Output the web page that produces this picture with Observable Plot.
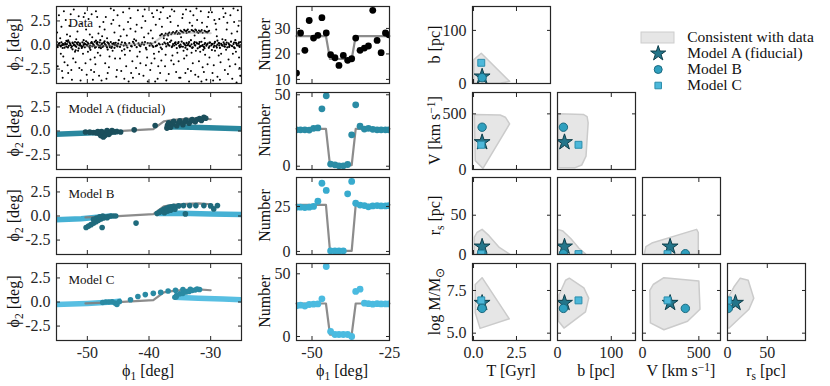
<!DOCTYPE html>
<html><head><meta charset="utf-8">
<script src="https://cdn.jsdelivr.net/npm/d3@7"></script>
<script src="https://cdn.jsdelivr.net/npm/@observablehq/plot@0.6"></script>
<style>
body{margin:0;background:#fff;}
#root{position:relative;width:830px;height:386px;overflow:hidden;background:#fff;}
#root svg{position:absolute;background:none;overflow:visible;}
</style></head><body><div id="root"></div>
<script>
// ---------------- DATA ----------------
// Data panel: background field stars [phi1, phi2]
const bgPts = [
[-54.6,3.1],[-54.2,1.9],[-53.9,-1.2],[-53.5,2.6],[-53.1,-2.9],[-52.8,0.9],[-52.5,-3.6],[-52.2,3.7],[-51.9,-1.8],[-51.6,1.4],[-51.3,-2.4],[-51.0,2.2],[-50.7,-0.9],[-50.4,3.3],[-50.1,-3.1],[-54.8,-2.2],[-54.0,-3.4],[-53.3,1.1],[-52.0,-0.7],[-51.4,3.0],[-50.2,1.6],[-54.4,0.7],[-53.7,-1.8],[-52.6,-2.6],
[-49.8,2.7],[-49.5,-1.5],[-49.2,0.8],[-48.9,-2.8],[-48.6,3.5],[-48.3,-0.8],[-48.0,1.9],[-47.7,-3.7],[-47.4,2.4],[-47.1,-1.9],[-46.8,0.7],[-46.5,-2.3],[-46.2,3.8],[-45.9,-0.6],[-45.6,1.3],[-45.3,-3.3],[-49.1,-3.6],[-48.4,2.9],[-47.9,-1.1],[-47.2,1.6],[-46.7,-2.9],[-46.1,2.2],[-45.5,-1.4],[-45.1,3.1],[-49.6,1.1],[-48.7,-2.0],
[-44.8,2.0],[-44.5,-2.7],[-44.2,3.4],[-43.9,-1.0],[-43.6,1.0],[-43.3,-3.8],[-43.0,2.8],[-42.7,-1.7],[-42.4,0.6],[-42.1,-2.4],[-41.8,3.6],[-41.5,-0.7],[-41.2,1.8],[-40.9,-3.2],[-40.6,2.5],[-40.3,-1.3],[-44.0,-3.5],[-43.4,2.4],[-42.9,-2.9],[-42.2,1.4],[-41.6,-3.0],[-41.0,3.0],[-40.5,-2.1],[-44.6,0.9],[-43.1,-0.6],[-40.1,1.2],
[-39.8,-2.6],[-39.5,3.3],[-39.2,-0.9],[-38.9,2.1],[-38.6,-3.5],[-38.3,2.7],[-38.0,-1.6],[-37.7,3.9],[-37.4,-2.2],[-37.1,0.6],[-36.8,-3.0],[-36.5,2.4],[-36.2,-1.1],[-35.9,3.5],[-35.6,-2.8],[-35.3,2.0],[-39.6,-1.9],[-39.0,-3.8],[-38.4,-0.7],[-37.9,1.9],[-37.2,-3.7],[-36.6,3.0],[-36.0,-2.0],[-35.4,-0.8],[-39.3,2.9],[-38.1,3.4],
[-34.9,-3.4],[-34.6,2.8],[-34.3,-1.4],[-34.0,3.7],[-33.7,-2.5],[-33.4,2.3],[-33.1,-0.8],[-32.8,3.1],[-32.5,-3.1],[-32.2,2.6],[-31.9,-1.7],[-31.6,3.5],[-31.3,-2.3],[-31.0,0.7],[-30.7,-3.6],[-30.4,2.9],[-34.8,0.8],[-34.1,-2.9],[-33.5,-3.8],[-32.9,-1.9],[-32.3,3.8],[-31.7,-0.7],[-31.1,-2.8],[-30.6,1.9],[-30.2,-1.3],[-33.0,2.0],[-34.4,-0.6],
[-29.8,3.4],[-29.5,-2.1],[-29.2,2.2],[-28.9,-3.3],[-28.6,2.7],[-28.3,-0.9],[-28.0,3.8],[-27.7,-2.6],[-27.4,1.6],[-27.1,-1.5],[-26.8,3.1],[-26.5,-3.5],[-26.2,2.4],[-25.9,-0.7],[-25.6,3.6],[-25.3,-2.4],[-29.6,-3.7],[-29.0,0.9],[-28.4,-1.8],[-27.9,2.9],[-27.2,-3.0],[-26.6,1.2],[-26.0,-2.0],[-25.5,2.0],[-29.3,-0.6],[-27.5,-0.5],[-25.8,-3.9],
[-54.3,-0.9],[-53.8,3.5],[-53.2,-2.1],[-52.9,2.0],[-52.3,-1.4],[-51.8,0.6],[-51.1,-3.7],[-50.6,2.9],[-50.3,-1.9],[-49.9,-0.7],[-49.3,3.2],[-48.8,-1.3],[-48.1,-3.2],[-47.6,0.9],[-47.0,2.9],[-46.4,-1.2],[-45.8,2.6],[-45.2,-2.6],[-44.7,-1.4],[-44.1,1.6],[-43.7,-2.2],[-43.2,3.8],[-42.6,-3.4],[-42.0,2.1],[-41.4,-1.9],[-40.8,0.8],[-40.2,-3.8],[-39.7,1.5],[-39.1,-1.4],[-38.7,3.6],[-38.2,-2.9],[-37.6,0.7],[-37.0,2.8],[-36.4,-1.6],[-35.8,1.2],[-35.1,-3.4],[-34.5,3.2],[-33.9,-1.1],[-33.2,-2.7],[-32.6,1.0],[-32.0,-3.3],[-31.4,2.3],[-30.9,-1.0],[-30.3,3.4],[-29.7,-2.9],[-29.1,1.6],[-28.5,-3.6],[-28.1,0.6],[-27.6,3.3],[-26.9,-2.2],[-26.4,-0.9],[-25.7,1.4],[-25.2,-3.2],[-54.9,1.3],[-54.1,-2.7],[-52.7,3.2],[-51.5,-0.6],[-50.9,-2.6],[-49.4,-2.6],[-48.2,1.2],[-46.9,-3.5],[-45.7,3.6],[-44.4,-0.6],[-43.0,1.7],[-41.9,-1.2],[-40.7,3.7],[-39.4,0.7],[-38.5,-2.2],[-37.3,-1.0],[-36.3,3.7],[-35.2,-1.7],[-34.2,1.5],[-33.3,3.5],[-32.4,-0.6],[-31.5,-3.8],[-30.5,-2.0],[-29.4,2.6],[-28.7,-1.1],[-27.3,2.3],[-26.3,3.8],[-25.4,-1.3]
];
// Data panel: stream members [phi1, phi2]
const streamPts = [
[-55.0,0.08],[-54.8,-0.22],[-54.6,0.15],[-54.4,-0.05],[-54.2,0.28],[-54.0,-0.31],[-53.8,0.02],[-53.6,0.19],[-53.4,-0.16],[-53.2,0.35],
[-53.0,-0.09],[-52.8,0.12],[-52.6,-0.27],[-52.4,0.24],[-52.2,-0.02],[-52.0,0.31],[-51.8,-0.19],[-51.6,0.06],[-51.4,-0.36],[-51.2,0.17],
[-51.0,-0.11],[-50.8,0.27],[-50.6,0.01],[-50.4,-0.24],[-50.2,0.39],[-50.0,-0.07],[-49.8,0.13],[-49.6,-0.3],[-49.4,0.21],[-49.2,-0.14],
[-49.0,0.04],[-48.8,0.33],[-48.6,-0.21],[-48.4,0.1],[-48.2,-0.04],[-48.0,0.26],[-47.8,-0.33],[-47.6,0.16],[-47.4,-0.12],[-47.2,0.37],
[-47.0,0.0],[-46.8,-0.25],[-46.6,0.2],[-46.4,-0.08],[-46.2,0.3],[-46.0,-0.17],[-45.8,0.09],[-45.6,-0.29],[-45.4,0.23],[-45.2,-0.03],
[-45.0,0.14],[-44.7,-0.2],[-44.4,0.28],[-44.1,-0.06],[-43.8,0.11],[-43.5,-0.26],[-43.2,0.19],[-42.9,-0.1],[-42.6,0.33],[-42.3,-0.01],
[-42.0,-0.23],[-41.7,0.16],[-41.4,-0.13],[-41.1,0.25],[-40.8,0.03],[-40.5,-0.3],[-40.2,0.2],[-39.9,-0.07],[-39.6,0.12],[-39.3,-0.2],
[-39.0,0.29],[-38.7,-0.04],[-38.4,0.15],[-38.1,-0.27],[-37.8,0.08],[-37.5,0.24],[-37.2,-0.15],[-36.9,0.02],[-36.6,0.31],[-36.3,-0.22],
[-36.1,0.1],[-35.9,-0.05],[-35.7,0.27],[-35.5,-0.32],[-35.3,0.18],[-35.1,-0.1],[-34.9,0.05],[-34.7,0.36],[-34.5,-0.18],[-34.3,0.13],
[-34.1,-0.28],[-33.9,0.22],[-33.7,-0.02],[-33.5,0.3],[-33.3,-0.14],[-33.1,0.07],[-32.9,-0.24],[-32.7,0.17],[-32.5,-0.06],[-32.3,0.26],
[-32.1,-0.35],[-31.9,0.11],[-31.7,-0.12],[-31.5,0.34],[-31.3,0.0],[-31.1,-0.2],[-30.9,0.2],[-30.7,-0.08],[-30.5,0.14],[-30.3,-0.29],
[-30.1,0.25],[-29.9,-0.03],[-29.7,0.09],[-29.5,-0.22],[-29.3,0.32],[-29.1,-0.11],[-28.9,0.04],[-28.7,0.21],[-28.5,-0.3],[-28.3,0.12],
[-28.1,-0.07],[-27.9,0.28],[-27.7,-0.17],[-27.5,0.06],[-27.3,-0.25],[-27.1,0.18],[-26.9,-0.01],[-26.7,0.35],[-26.5,-0.13],[-26.3,0.1],
[-26.1,-0.33],[-25.9,0.23],[-25.7,-0.05],[-25.5,0.15],[-25.3,-0.2],[-25.1,0.3],
[-54.9,-0.12],[-54.5,0.21],[-54.1,-0.02],[-53.7,-0.28],[-53.3,0.1],[-52.9,0.27],[-52.5,-0.13],[-52.1,0.05],[-51.7,0.22],[-51.3,-0.04],
[-50.9,-0.3],[-50.5,0.16],[-50.1,0.02],[-49.7,-0.18],[-49.3,0.3],[-48.9,-0.09],[-48.5,0.19],[-48.1,-0.26],[-47.7,0.06],[-47.3,0.24],
[-46.9,-0.14],[-46.5,0.1],[-46.1,-0.31],[-45.7,0.2],[-45.3,-0.06],[-43.9,0.22],[-42.8,-0.15],[-41.2,0.07],[-39.8,0.18],[-38.9,-0.12],
[-37.3,0.13],[-36.7,-0.07],[-35.8,0.19],[-35.0,-0.24],[-34.2,0.03],[-33.4,-0.1],[-32.6,0.29],[-31.8,-0.23],[-31.0,0.08],[-30.2,-0.14],
[-29.4,0.17],[-28.6,-0.04],[-27.8,0.1],[-27.0,-0.2],[-26.2,0.26],[-25.4,-0.09],[-53.1,0.48],[-49.5,-0.5],[-44.9,0.5],[-40.4,-0.47],
[-36.4,0.46],[-31.2,-0.5],[-27.6,0.52],[-51.9,-0.55],[-47.9,0.5],[-33.2,0.5],[-29.8,-0.52],[-42.1,0.45],
[-54.95,0.3],[-54.7,0.0],[-54.3,-0.15],[-53.95,0.12],[-53.5,0.05],[-53.15,-0.25],[-52.7,-0.02],[-52.35,0.18],[-51.95,-0.1],[-51.5,0.28],
[-51.15,0.02],[-50.75,-0.16],[-50.35,0.09],[-49.95,0.25],[-49.55,-0.06],[-49.15,0.16],[-48.75,-0.28],[-48.35,0.3],[-47.95,-0.1],[-47.55,-0.2],
[-47.15,0.1],[-46.75,0.28],[-46.35,-0.22],[-45.95,0.13],[-45.55,0.02],[-45.1,-0.15],[-44.55,0.05],[-43.65,-0.05],[-42.45,0.18],[-41.55,-0.02],
[-40.65,0.3],[-39.45,-0.08],[-38.25,0.05],[-36.95,0.2],[-36.2,-0.12],[-35.6,0.05],[-35.2,0.3],[-34.8,-0.15],[-34.4,0.2],[-34.0,-0.06],
[-33.6,0.12],[-33.0,-0.3],[-32.6,0.0],[-32.2,0.15],[-31.8,0.3],[-31.4,-0.1],[-31.0,-0.33],[-30.6,0.05],[-30.2,0.24],[-29.8,0.12],
[-29.4,-0.08],[-29.0,-0.27],[-28.6,0.18],[-28.2,0.02],[-27.8,-0.13],[-27.4,0.26],[-27.0,0.04],[-26.6,-0.08],[-26.2,-0.25],[-25.8,0.1],
[-25.4,0.28],[-25.0,0.0],[-53.4,0.42],[-48.6,0.45],[-44.0,-0.45],[-37.9,-0.42],[-33.8,-0.45],[-28.9,0.45],[-26.0,0.5],[-50.6,0.5],[-52.4,-0.45],[-46.7,-0.48]
];
// Data panel: spur above the stream [phi1, phi2]
const spurPts = [
[-38.2,1.0],[-37.9,1.15],[-37.6,0.95],[-37.3,1.2],[-37.0,1.08],[-36.7,1.3],[-36.4,1.12],[-36.1,1.35],[-35.8,1.22],[-35.5,1.45],
[-35.2,1.28],[-34.9,1.5],[-34.6,1.36],[-34.3,1.58],[-34.0,1.42],[-33.7,1.62],[-33.4,1.38],[-33.1,1.55],[-32.8,1.45],[-32.5,1.6],
[-32.2,1.35],[-31.9,1.5],[-31.6,1.42],[-31.3,1.28],[-31.0,1.47],[-30.7,1.35],[-30.4,1.4],[-36.9,0.98],[-35.0,1.18],[-33.9,1.25],[-32.0,1.25],
[-38.0,1.08],[-37.45,1.02],[-36.85,1.2],[-36.25,1.25],[-35.65,1.32],[-35.35,1.15],[-34.75,1.42],[-34.45,1.3],[-33.85,1.5],[-33.55,1.35],
[-32.95,1.5],[-32.65,1.38],[-32.35,1.52],[-31.75,1.38],[-31.45,1.55],[-30.85,1.4],[-30.55,1.3],[-30.25,1.48]
];
// Best-fit track (gray line) [phi1, phi2]
const track = [[-50.3,-0.15],[-45,-0.02],[-39.3,0.2],[-37.6,1.0],[-36,1.15],[-34,1.27],[-32,1.32],[-30,1.22]];

// Model streams: unperturbed band [phi1, phi2, segment]
const bandA = [[-55.5,-0.36,0],[-51,-0.24,0],[-47,-0.12,0],[-45,-0.06,0],[-37.2,0.45,1],[-33,0.38,1],[-29,0.3,1],[-24.5,0.22,1]];
const bandB = [[-55.5,-0.4,0],[-51,-0.28,0],[-48,-0.1,0],[-46,0.0,0],[-38.5,0.25,1],[-35,0.28,1],[-30,0.2,1],[-24.5,0.15,1]];
const bandC = [[-55.5,-0.28,0],[-50,-0.15,0],[-46,0.0,0],[-44.5,0.1,0],[-35.9,0.5,1],[-32,0.38,1],[-28,0.3,1],[-24.5,0.22,1]];
// Model streams: perturbed particles [phi1, phi2]
const dotsA = [
[-50.3,-0.1],[-49.6,-0.12],[-49,-0.15],[-48.5,-0.2],[-48,-0.3],[-47.8,-0.5],[-47.4,-0.62],[-47.1,-0.45],[-47,-0.2],[-46.8,0.05],[-46.5,-0.35],[-46.2,-0.15],[-46,0.05],[-45.6,-0.1],[-45.2,-0.05],[-44.6,-0.1],[-47.7,-0.05],[-48.3,-0.05],
[-42.4,0.12],[-39,0.57],
[-37.1,0.3],[-37,0.6],[-36.8,0.85],[-36.5,0.4],[-36.2,0.7],[-36,1.0],[-35.5,0.55],[-35.2,0.85],[-35,1.05],[-34.5,0.65],[-34.2,0.95],[-34,1.15],[-33.5,0.8],[-33.2,1.05],[-33,1.2],[-32.5,0.95],[-32.2,1.2],[-31.8,1.3],[-31.5,1.1],[-31.1,1.42],[-30.8,1.32]
];
const dotsB = [
[-50.2,-1.2],[-49.8,-1.05],[-49.4,-0.9],[-49,-0.75],[-48.6,-0.6],[-48.2,-0.45],[-47.8,-0.3],[-47.4,-0.2],[-47,-0.1],[-46.6,-0.05],[-46.2,0],[-45.8,0],[-45.4,0],[-48.5,-0.2],[-48,-0.08],[-47.5,0],[-49,-0.35],[-46.8,-0.18],[-47.6,-1.2],[-42.1,-0.74],
[-38.7,0.25],[-38.3,0.4],[-38,0.55],[-37.6,0.7],[-37.2,0.8],[-36.8,0.9],[-36.4,0.95],[-36,1.0],[-37.5,0.35],[-37,0.5],[-36.5,0.6],[-35.8,0.7],
[-35.2,1.05],[-34.4,1.08],[-33.4,1.08],[-32.4,1.08],[-31.1,1.08],[-30,1.05],[-28.9,1.08],[-29.5,0.74],[-34.1,0.22]
];
const dotsC = [
[-47.5,-0.05],[-47,0],[-46.5,0],[-46,0.02],[-45.5,-0.1],[-45.2,-0.25],[-44.8,0.05],
[-43,0.23],[-41.8,0.57],[-40.6,0.77],[-39.3,0.9],[-38.1,1.0],[-36.9,1.15],[-35.7,1.22],[-34.5,1.3],[-33.3,1.33],[-32.2,1.35],[-31.8,1.3],
[-35.8,0.5],[-35.5,0.7],[-35,0.85],[-34.5,0.9],[-34,1.05],[-33.5,1.1],[-33,1.2],[-32.5,1.25],[-35.6,0.55]
];

// Star counts along the stream
const binPhi1   = [-55,-53.7,-52.3,-50.9,-49.5,-48.1,-46.8,-45.4,-44.0,-42.6,-41.3,-39.9,-38.5,-37.2,-35.9,-34.5,-33.1,-31.8,-30.4,-29.0,-27.7,-26.3,-25.2];
const countData = [12.5,28.2,21.4,33.1,26.2,27.3,34.2,28.2,19.7,18.5,15.5,19.4,17.5,18.1,26.2,21.4,22.3,23.1,37.1,25.3,20.5,28.2,27.5];
const countA    = [25.5,25.5,25.5,25.3,26.5,26.8,40.2,49.3,1.5,1.0,0.3,0.3,1.2,22,43,28,26,26.5,25.8,25.5,25.5,25.5,25.5];
const countB    = [24.6,24.6,24.4,24.6,25,27.9,37.9,33.9,0.3,0.3,0.3,0.3,32,38.9,26.8,25.8,25.5,24.8,25.3,25.5,25.3,25.3,25.5];
const countC    = [24.5,25,24.3,25.5,25.8,26,30,55.8,4,1.6,1.6,1.6,1.6,0,35.9,37.7,26.6,26.2,25.8,26.2,26,26,26];
// Model count profile (gray step)
const stepPhi1  = [-55,-45.5,-44.2,-37.2,-35.9,-25];
const stepData  = [27,27,18,18,27,27];
const stepA     = [26.2,26.2,0.8,0.8,26.2,26.2];
const stepB     = [25.9,25.9,0.3,0.3,25.9,25.9];
const stepC     = [26.3,26.3,1.5,1.5,26.3,26.3];

// Perturber parameters of the three models
const modelNames = ["Model A (fiducial)","Model B","Model C"];
const modelT    = [0.5, 0.5, 0.45];   // Gyr
const modelB    = [13, 11, 39];       // pc
const modelV    = [245, 380, 222];    // km/s
const modelRs   = [10, 1.0, 0.5];     // pc
const modelLogM = [6.77, 6.45, 6.92];

// Regions consistent with the data [x, y]
const polyT_b   = [[0.02,0.5],[0.02,45],[0.45,57],[2.1,4],[1.6,0.8]];
const polyT_V   = [[0.05,495],[1.55,490],[1.85,470],[2.1,410],[0.55,10],[0.1,80]];
const polyb_V   = [[2,500],[48,495],[55,475],[57,420],[53,120],[45,40],[32,15],[2,15]];
const polyT_rs  = [[0.05,0],[0.05,22],[0.2,28],[0.5,32],[0.9,24],[1.5,9],[2.1,0.5],[2.1,0]];
const polyb_rs  = [[0.5,0],[0.5,32],[10,30],[25,20],[40,8],[52,1],[52,0]];
const polyV_rs  = [[15,0],[30,10],[90,15],[480,32],[495,28],[495,0]];
const polyT_M   = [[0.5,8.25],[0.1,7.85],[0.1,6.2],[0.38,5.28],[2.08,5.84]];
const polyb_M   = [[2,5.7],[12,5.3],[52,6.25],[58,7.05],[49,7.65],[22,8.22],[15,8.1],[3,7.25]];
const polyV_M   = [[65,7.5],[95,7.85],[190,8.25],[500,8.05],[510,6.4],[400,5.7],[190,5.2],[70,5.6]];
const polyrs_M  = [[0,5.3],[0,7.0],[8,7.7],[16,8.22],[26,8.1],[33,7.05],[27,6.4],[2,5.3]];

// Tick values
const phi2Ticks = [-2.5, 0, 2.5];
const phi1TicksLeft = [-50, -40, -30];
const phi1TicksMid = [-50, -25];

// ---------------- STYLE ----------------
const FONT = "Liberation Serif, Times New Roman, serif";
const INK = "#262626";
const GRAY = "#808080";
const modelFill   = ["#23758a", "#2fa0bf", "#4db8da"];
const modelStroke = ["#0f3e4a", "#1b6a80", "#2b8dab"];
const modelSym    = ["star", "circle", "square"];
const modelR      = [5.0, 4.2, 3.9];
const bandColor   = ["#2a889f", "#46b1d4", "#58bfe2"];
const dotColor    = ["#1b4f5c", "#1f6b7d", "#2a8aa3"];
const countColor  = ["#2a8ca5", "#38abce", "#4bbbe0"];

const root = document.getElementById("root");
const fmt1 = d => (d < 0 ? "-" : "") + Math.abs(d).toFixed(1);
const fmt0 = d => (d < 0 ? "-" : "") + Math.abs(d);
const blank = () => "";

// force serif fonts & sizes on every text of a rendered Plot
function restyle(svg, labelSize) {
  const s = d3.select(svg);
  s.attr("font-family", FONT).style("font-family", FONT);
  s.selectAll("g").each(function() { if (this.getAttribute("font-family")) this.setAttribute("font-family", FONT); });
  s.selectAll('g[aria-label$="tick label"] text').style("font-family", FONT).style("font-size", "16px");
  s.selectAll('g[aria-label="text"] text').style("font-family", FONT).style("font-size", labelSize + "px");
}

function panel({left, top, w, h, x, y, xt, yt, xf = fmt0, yf = fmt0, showX = false, showY = true, marks}) {
  const M = 45;
  const svg = Plot.plot({
    width: w + 2 * M, height: h + 2 * M,
    marginLeft: M, marginRight: M, marginTop: M, marginBottom: M,
    x, y,
    marks: [
      ...marks,
      Plot.axisX(xt, {anchor: "bottom", tickSize: -4, tickPadding: 10, tickFormat: showX ? xf : blank, label: null}),
      Plot.axisX(xt, {anchor: "top", tickSize: -4, tickFormat: blank, label: null}),
      Plot.axisY(yt, {anchor: "left", tickSize: -4, tickPadding: 10, tickFormat: showY ? yf : blank, label: null}),
      Plot.axisY(yt, {anchor: "right", tickSize: -4, tickFormat: blank, label: null}),
      Plot.frame({stroke: INK, strokeWidth: 1.2})
    ]
  });
  restyle(svg, 13);
  svg.style.left = (left - M) + "px";
  svg.style.top = (top - M) + "px";
  svg.style.color = INK;
  root.appendChild(svg);
}

const rowTop = [6, 92, 177, 263];
const H = 77;
const px = d => d[0], py = d => d[1];
const phi1Left = {domain: [-55, -25]};
const phi1Mid = {domain: [-55, -25]};
const phi2Scale = {domain: [-4, 4]};
const label = s => Plot.text([s], {frameAnchor: "top-left", dx: 12, dy: 16, lineAnchor: "middle", textAnchor: "start", fill: "#111"});
const trackLine = (op) => Plot.line(track, {x: px, y: py, stroke: GRAY, strokeWidth: 2.2, strokeOpacity: op, clip: true});

// ---- Left column: Data
panel({left: 56, top: rowTop[0], w: 185, h: H, x: phi1Left, y: phi2Scale, xt: phi1TicksLeft, yt: phi2Ticks, yf: fmt1,
  marks: [
    Plot.dot(bgPts, {x: px, y: py, r: 1.0, fill: "#000", clip: true}),
    Plot.dot(streamPts, {x: px, y: py, r: 1.1, fill: "#000", clip: true}),
    Plot.dot(spurPts, {x: px, y: py, r: 1.0, fill: "#000", clip: true}),
    trackLine(0.4),
    label("Data")
  ]});
// ---- Left column: models
const bands = [bandA, bandB, bandC], dotsM = [dotsA, dotsB, dotsC];
for (let k = 0; k < 3; k++) {
  panel({left: 56, top: rowTop[k + 1], w: 185, h: H, x: phi1Left, y: phi2Scale, xt: phi1TicksLeft, yt: phi2Ticks, yf: fmt1, showX: k === 2,
    marks: [
      Plot.line(bands[k], {x: px, y: py, z: d => d[2], stroke: bandColor[k], strokeWidth: 5.5, strokeLinecap: "butt", clip: true}),
      trackLine(0.9),
      Plot.dot(dotsM[k], {x: px, y: py, r: 2.8, fill: dotColor[k], clip: true}),
      label(modelNames[k])
    ]});
}
// ---- Middle column: counts
const counts = [countData, countA, countB, countC];
const steps = [stepData, stepA, stepB, stepC];
const countDomains = [[8.4, 38.6], [-2.3, 51.6], [-1.7, 41.1], [-3.2, 58.2]];
const countTicks = [[10, 20, 30], [0, 50], [0, 25], [0, 50]];
const cColors = ["#000", ...countColor];
for (let k = 0; k < 4; k++) {
  panel({left: 296, top: rowTop[k], w: 93, h: H, x: phi1Mid, y: {domain: countDomains[k]}, xt: phi1TicksMid, yt: countTicks[k], showX: k === 3,
    marks: [
      Plot.line(stepPhi1, {x: d => d, y: (d, i) => steps[k][i], stroke: GRAY, strokeWidth: 2.2, strokeOpacity: 0.9}),
      Plot.dot(binPhi1, {x: d => d, y: (d, i) => counts[k][i], r: 3.4, fill: cColors[k], clip: true})
    ]});
}
// ---- Corner plot
const params = {
  T: {vals: modelT, domain: [-0.06, 4.48], ticks: [0, 2.5], fmt: fmt1},
  b: {vals: modelB, domain: [0, 145], ticks: [0, 100], fmt: fmt0},
  V: {vals: modelV, domain: [0, 692], ticks: [0, 500], fmt: fmt0},
  rs: {vals: modelRs, domain: [0, 98], ticks: [0, 50], fmt: fmt0},
  logM: {vals: modelLogM, domain: [4.57, 9.08], ticks: [5, 7.5], fmt: fmt1}
};
const colKeys = ["T", "b", "V", "rs"];
const rowKeys = ["b", "V", "rs", "logM"];
const polys = {
  "T,b": polyT_b, "T,V": polyT_V, "b,V": polyb_V,
  "T,rs": polyT_rs, "b,rs": polyb_rs, "V,rs": polyV_rs,
  "T,logM": polyT_M, "b,logM": polyb_M, "V,logM": polyV_M, "rs,logM": polyrs_M
};
const colLeft = [472, 557, 642, 727];
for (let i = 0; i < 4; i++) {
  for (let j = 0; j <= i; j++) {
    const xk = colKeys[j], yk = rowKeys[i];
    const XP = params[xk], YP = params[yk];
    const markers = [0, 1, 2].map(m => Plot.dot([m], {x: d => XP.vals[d], y: d => YP.vals[d], symbol: modelSym[m], r: modelR[m], fill: modelFill[m], stroke: modelStroke[m], strokeWidth: 1, clip: true}));
    panel({left: colLeft[j], top: rowTop[i], w: 78, h: H,
      x: {domain: XP.domain}, y: {domain: YP.domain}, xt: XP.ticks, yt: YP.ticks, xf: XP.fmt, yf: YP.fmt,
      showX: i === 3, showY: j === 0,
      marks: [
        Plot.line(polys[xk + "," + yk], {x: px, y: py, curve: "linear-closed", fill: "#e6e6e6", stroke: "#cbcbcb", strokeWidth: 1.5, clip: true}),
        ...markers
      ]});
  }
}
// ---- Legend
const legendLabels = ["Consistent with data", ...modelNames];
{
  const leg = Plot.plot({
    width: 210, height: 112, margin: 0,
    x: {domain: [0, 210], range: [0, 210], axis: null},
    y: {type: "point", domain: legendLabels, range: [27, 94.5], axis: null},
    marks: [
      Plot.ruleY([legendLabels[0]], {x1: 20.5, x2: 54.5, stroke: "#cdcdcd", strokeWidth: 12}),
      Plot.ruleY([legendLabels[0]], {x1: 21.5, x2: 53.5, stroke: "#e6e6e6", strokeWidth: 10}),
      ...[0, 1, 2].map(m => Plot.dot([modelNames[m]], {x: () => 37.7, y: d => d, symbol: modelSym[m], r: modelR[m] * 0.95, fill: modelFill[m], stroke: modelStroke[m], strokeWidth: 1})),
      Plot.text(legendLabels, {x: () => 66.7, y: d => d, text: d => d, textAnchor: "start", fill: "#111"})
    ]
  });
  restyle(leg, 15.5);
  leg.style.left = "620px"; leg.style.top = "0px";
  root.appendChild(leg);
}
// ---- Axis titles (real text with sub/superscripts)
const ov = d3.select(root).append("svg").attr("width", 830).attr("height", 386)
  .style("left", "0px").style("top", "0px")
  .attr("font-family", FONT).attr("font-size", 16).attr("fill", "#111");
function title(x, y, parts, rot) {
  const t = ov.append("text").attr("text-anchor", "middle")
    .attr("transform", `translate(${x},${y})` + (rot ? " rotate(-90)" : ""));
  let shift = 0;
  for (const [s, kind] of parts) {
    const target = kind === "sub" ? 4 : kind === "sup" ? -5 : 0;
    const ts = t.append("tspan").text(s).attr("dy", target - shift);
    if (kind) ts.attr("font-size", 11.5);
    shift = target;
  }
}
const phi2Label = [["ϕ"], ["2", "sub"], [" [deg]"]];
const phi1Label = [["ϕ"], ["1", "sub"], [" [deg]"]];
for (let k = 0; k < 4; k++) {
  title(19, rowTop[k] + H / 2, phi2Label, true);
  title(269.5, rowTop[k] + H / 2, [["Number"]], true);
}
title(148, 376, phi1Label, false);
title(342, 376, phi1Label, false);
const yTitles = [
  [["b [pc]"]],
  [["V [km s"], ["−1", "sup"], ["]"]],
  [["r"], ["s", "sub"], [" [pc]"]],
  [["log M/M"], ["⊙", "sub"]]
];
yTitles.forEach((p, i) => title(440, rowTop[i] + H / 2, p, true));
const xTitles = [
  [["T [Gyr]"]],
  [["b [pc]"]],
  [["V [km s"], ["−1", "sup"], ["]"]],
  [["r"], ["s", "sub"], [" [pc]"]]
];
xTitles.forEach((p, j) => title(colLeft[j] + 39, 376, p, false));
</script></body></html>
